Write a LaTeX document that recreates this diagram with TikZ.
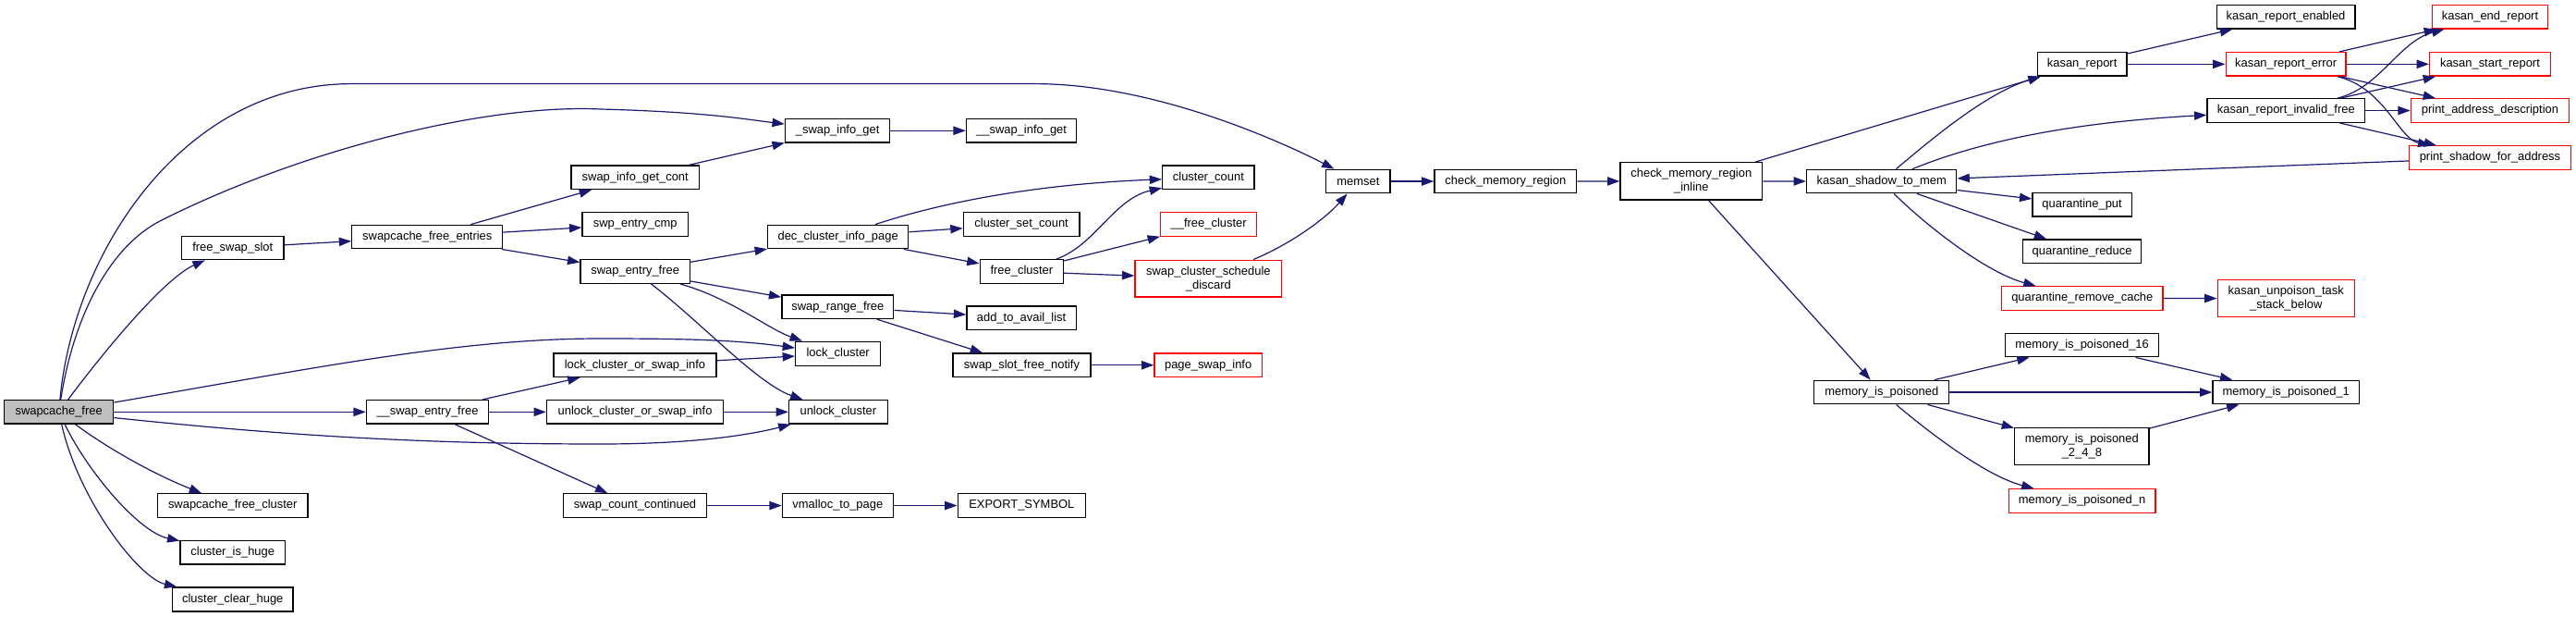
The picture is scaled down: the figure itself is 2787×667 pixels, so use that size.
\documentclass[tikz,border=0pt]{standalone}
\usepackage{fontspec}
\setmainfont{Liberation Sans}
\usetikzlibrary{arrows.meta}
\definecolor{edgeblue}{HTML}{191970}
\definecolor{boxgray}{HTML}{BFBFBF}
\definecolor{boxred}{HTML}{FF0000}
\newcommand\mkbox[7]{\node[#1, minimum width={(#5-#3)*0.75pt}, minimum height={(#6-#4)*0.75pt}] (#2) at ({(#3+#5)/2},{(#4+#6)/2}) {#7};}
\begin{document}
\begin{tikzpicture}[x=0.75pt,y=-0.75pt,
  bx/.style={draw=black, line width=1pt, fill=white, inner sep=0pt, align=center, font=\fontsize{9.7}{11.2}\selectfont},
  rbx/.style={bx, draw=boxred},
  gbx/.style={bx, fill=boxgray},
  edge/.style={draw=edgeblue, line width=0.9pt, -{Triangle[length=10pt,width=7pt]}}]
\useasboundingbox (0,0) rectangle (2787,667);
% nodes
\mkbox{gbx}{sf}{4.5}{432.6}{122.8}{458.1}{swapcache\_free}
\mkbox{bx}{fss}{196.4}{255.2}{307.1}{280.7}{free\_swap\_slot}
\mkbox{bx}{sfe}{380.8}{243.3}{543.8}{268.8}{swapcache\_free\_entries}
\mkbox{bx}{sfc}{170.5}{533.8}{333}{559.3}{swapcache\_free\_cluster}
\mkbox{bx}{cih}{195}{584.4}{308.5}{610}{cluster\_is\_huge}
\mkbox{bx}{cch}{186.6}{635}{317}{661}{cluster\_clear\_huge}
\mkbox{bx}{sefb}{396.4}{432.6}{528.6}{458.1}{\_\_swap\_entry\_free}
\mkbox{bx}{siga}{849.5}{128.5}{962.8}{154}{\_swap\_info\_get}
\mkbox{bx}{sigb}{1045.4}{128.5}{1164.8}{154}{\_\_swap\_info\_get}
\mkbox{bx}{sigc}{617.9}{179}{756.6}{204.6}{swap\_info\_get\_cont}
\mkbox{bx}{sec}{630}{229.7}{744.4}{255.2}{swp\_entry\_cmp}
\mkbox{bx}{sef}{628}{280.7}{746.4}{306.3}{swap\_entry\_free}
\mkbox{bx}{lcsi}{599}{382}{775}{407.5}{lock\_cluster\_or\_swap\_info}
\mkbox{bx}{ucsi}{591.5}{432.6}{782.7}{458.1}{unlock\_cluster\_or\_swap\_info}
\mkbox{bx}{scc}{609.8}{533.8}{764.3}{559.3}{swap\_count\_continued}
\mkbox{bx}{dcip}{830.6}{243.3}{982.7}{268.8}{dec\_cluster\_info\_page}
\mkbox{bx}{srf}{845.9}{319}{966.8}{344.5}{swap\_range\_free}
\mkbox{bx}{lc}{860.7}{369.2}{952.6}{395.6}{lock\_cluster}
\mkbox{bx}{uc}{853.6}{432.6}{960.2}{458.1}{unlock\_cluster}
\mkbox{bx}{vtp}{846.4}{533.8}{966.3}{559.3}{vmalloc\_to\_page}
\mkbox{bx}{csc}{1042.3}{229.7}{1167.9}{255.2}{cluster\_set\_count}
\mkbox{bx}{fc}{1060.2}{280.7}{1150.5}{306.3}{free\_cluster}
\mkbox{bx}{aal}{1045.9}{331}{1164.3}{356.4}{add\_to\_avail\_list}
\mkbox{bx}{ssfn}{1031}{382}{1180}{407.5}{swap\_slot\_free\_notify}
\mkbox{bx}{es}{1036.2}{533.8}{1174.5}{559.3}{EXPORT\_SYMBOL}
\mkbox{bx}{cc}{1257.7}{179}{1357.1}{204.6}{cluster\_count}
\mkbox{rbx}{fcb}{1255.6}{229.7}{1359.7}{255.2}{\_\_free\_cluster}
\mkbox{rbx}{scsd}{1228}{281.2}{1386.7}{321.1}{swap\_cluster\_schedule\\\_discard}
\mkbox{rbx}{psi}{1249}{382}{1365.3}{407.5}{page\_swap\_info}
\mkbox{bx}{ms}{1434.7}{183.3}{1504}{208.8}{memset}
\mkbox{bx}{cmr}{1552}{183.3}{1705.6}{208.8}{check\_memory\_region}
\mkbox{bx}{cmri}{1753}{175.7}{1906.6}{216}{check\_memory\_region\\\_inline}
\mkbox{bx}{kstm}{1954.6}{183.3}{2116.8}{208.8}{kasan\_shadow\_to\_mem}
\mkbox{bx}{mip}{1962.8}{411.3}{2108.7}{436.8}{memory\_is\_poisoned}
\mkbox{bx}{kr}{2204.2}{56.6}{2301}{82.1}{kasan\_report}
\mkbox{bx}{qp}{2199}{208.4}{2306.2}{234}{quarantine\_put}
\mkbox{bx}{qr}{2188.7}{259}{2316.5}{284.6}{quarantine\_reduce}
\mkbox{rbx}{qrc}{2165.6}{309.7}{2340}{335.2}{quarantine\_remove\_cache}
\mkbox{bx}{mipa}{2169.4}{360.3}{2335.8}{385.8}{memory\_is\_poisoned\_16}
\mkbox{bx}{mipb}{2179.7}{462.4}{2325}{502.3}{memory\_is\_poisoned\\\_2\_4\_8}
\mkbox{rbx}{mipn}{2173.2}{528.7}{2332}{554.2}{memory\_is\_poisoned\_n}
\mkbox{bx}{kre}{2398.3}{5.5}{2547.8}{31}{kasan\_report\_enabled}
\mkbox{rbx}{krerr}{2408.2}{56.6}{2538}{82.1}{kasan\_report\_error}
\mkbox{bx}{krif}{2388}{106.8}{2558.6}{132.3}{kasan\_report\_invalid\_free}
\mkbox{rbx}{kutsb}{2399.2}{302.8}{2547.3}{342.4}{kasan\_unpoison\_task\\\_stack\_below}
\mkbox{bx}{mipc}{2394}{411.3}{2552.5}{436.8}{memory\_is\_poisoned\_1}
\mkbox{rbx}{ker}{2631.4}{5.5}{2756.5}{31}{kasan\_end\_report}
\mkbox{rbx}{ksr}{2628.6}{56.6}{2759.3}{82.1}{kasan\_start\_report}
\mkbox{rbx}{pad}{2608.4}{106.8}{2779.5}{132.3}{print\_address\_description}
\mkbox{rbx}{psfa}{2606.5}{157.8}{2781.4}{183.3}{print\_shadow\_for\_address}
% edges
\draw[edge] (sf) .. controls (80,270) and (200,90.6) .. (380,90.6) -- (1120,90.6) .. controls (1250,90.6) and (1390,155) .. (ms);
\draw[edge] (sf) .. controls (80,340) and (120,265) .. (175,238) .. controls (320,165) and (520,112) .. (650,118) .. controls (760,121) and (800,128) .. (siga);
\draw[edge] (sf) .. controls (120,370) and (180,300) .. (fss);
\draw[edge] (sf) .. controls (350,396) and (500,366) .. (650,366) .. controls (750,366) and (800,368) .. (lc);
\draw[edge] (sf) -- (sefb);
\draw[edge] (sf) .. controls (300,470) and (450,480) .. (650,480) .. controls (760,480) and (820,468) .. (uc);
\draw[edge] (sf) .. controls (110,480) and (160,510) .. (sfc);
\draw[edge] (sf) .. controls (95,510) and (150,575) .. (cih);
\draw[edge] (sf) .. controls (85,540) and (150,625) .. (cch);
\draw[edge] (fss) -- (sfe);
\draw[edge] (sfe) -- (sigc);
\draw[edge] (sfe) -- (sec);
\draw[edge] (sfe) -- (sef);
\draw[edge] (sigc) -- (siga);
\draw[edge] (siga) -- (sigb);
\draw[edge] (sef) -- (dcip);
\draw[edge] (sef) -- (srf);
\draw[edge] (sef) .. controls (790,322) and (830,355) .. (lc);
\draw[edge] (sef) .. controls (760,350) and (820,415) .. (uc);
\draw[edge] (sefb) -- (lcsi);
\draw[edge] (sefb) -- (ucsi);
\draw[edge] (sefb) -- (scc);
\draw[edge] (lcsi) -- (lc);
\draw[edge] (ucsi) -- (uc);
\draw[edge] (scc) -- (vtp);
\draw[edge] (vtp) -- (es);
\draw[edge] (dcip) .. controls (1000,225) and (1100,200) .. (cc);
\draw[edge] (dcip) -- (csc);
\draw[edge] (dcip) -- (fc);
\draw[edge] (srf) -- (aal);
\draw[edge] (srf) -- (ssfn);
\draw[edge] (ssfn) -- (psi);
\draw[edge] (fc) .. controls (1185,265) and (1205,215) .. (cc);
\draw[edge] (fc) -- (fcb);
\draw[edge] (fc) -- (scsd);
\draw[edge] (scsd) .. controls (1400,262) and (1435,235) .. (ms);
\draw[edge] (ms) -- (cmr);
\draw[edge] (cmr) -- (cmri);
\draw[edge] (cmri) -- (kstm);
\draw[edge] (cmri) -- (kr);
\draw[edge] (cmri) -- (mip);
\draw[edge] (kstm) .. controls (2090,150) and (2150,100) .. (kr);
\draw[edge] (kstm) .. controls (2150,150) and (2250,132) .. (krif);
\draw[edge] (kstm) -- (qp);
\draw[edge] (kstm) -- (qr);
\draw[edge] (kstm) .. controls (2085,245) and (2150,295) .. (qrc);
\draw[edge] (psfa) -- (kstm);
\draw[edge] (kr) -- (kre);
\draw[edge] (kr) -- (krerr);
\draw[edge] (krerr) -- (ker);
\draw[edge] (krerr) -- (ksr);
\draw[edge] (krerr) -- (pad);
\draw[edge] (krerr) .. controls (2580,95) and (2595,150) .. (psfa);
\draw[edge] (krif) .. controls (2575,95) and (2595,45) .. (ker);
\draw[edge] (krif) -- (ksr);
\draw[edge] (krif) -- (pad);
\draw[edge] (krif) -- (psfa);
\draw[edge] (qrc) -- (kutsb);
\draw[edge] (mip) -- (mipa);
\draw[edge] (mip) -- (mipc);
\draw[edge] (mip) -- (mipb);
\draw[edge] (mip) .. controls (2090,470) and (2150,515) .. (mipn);
\draw[edge] (mipa) -- (mipc);
\draw[edge] (mipb) -- (mipc);
\end{tikzpicture}
\end{document}
